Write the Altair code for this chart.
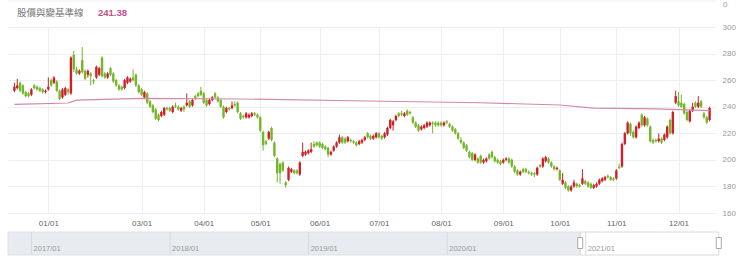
import altair as alt
import pandas as pd

# ---------------- data ----------------
open_ = [
    252,254,258,256,251,250,249,256,255,254,253,251,
    253,260,258,259,252,247,249,253,250,279,268,265,275,267,264,265,260,262,264,277,
    265,262,269,265,260,256,255,254,258,259,262,264,256,
    253,247,250,244,241,238,234,233,234,239,239,236,241,240,237,240,241,244,241,248,250,252,
    250,245,242,245,250,247,245,240,236,239,239,242,243,235,233,232,232,233,235,234,
    232,221,214,216,224,213,201,197,198,183,185,191,192,192,189,203,204,205,206,212,213,
    213,212,210,209,204,207,210,213,217,216,214,215,214,213,212,213,215,220,218,216,217,
    220,218,217,219,224,226,230,235,235,233,237,236,232,228,226,223,224,225,226,228,228,228,
    228,226,229,227,225,223,220,215,213,211,206,205,200,201,203,198,199,204,206,202,200,199,
    198,200,201,200,195,192,189,193,193,191,190,190,189,196,195,199,201,198,195,193,
    192,182,183,180,177,180,182,181,182,184,183,182,179,180,182,184,185,188,187,186,
    186,195,195,212,220,227,221,217,224,234,226,231,225,215,215,214,216,215,217,230,220,243,
    244,243,242,236,229,237,243,240,244,235,232,230,
]
close = [
    255,256,252,250,248,248,253,254,253,252,251,252,
    255,256,262,252,246,253,254,251,277,268,265,267,266,261,267,263,259,270,269,263,
    262,265,264,259,256,253,253,260,262,261,260,256,251,
    249,251,243,240,236,231,230,236,239,238,237,240,240,238,239,238,243,240,245,246,248,249,
    243,241,245,247,247,244,240,232,239,238,241,241,236,231,232,235,234,235,234,232,
    222,211,212,221,215,203,190,190,192,181,194,193,190,190,198,206,206,207,208,210,211,
    210,209,208,204,206,210,213,217,213,213,217,214,213,211,214,215,217,217,216,218,220,
    217,216,220,224,230,229,233,233,234,235,234,235,228,225,222,225,226,228,228,227,226,226,
    226,228,228,225,222,220,216,213,209,207,202,200,204,198,198,200,201,201,202,199,198,197,
    200,201,198,195,191,189,191,191,191,190,189,189,194,195,201,202,198,195,193,194,
    185,185,179,177,180,183,180,180,186,182,180,179,181,182,185,186,187,187,185,185,
    192,194,212,220,228,220,217,225,228,226,232,226,214,213,214,216,213,219,225,220,236,248,
    241,240,235,230,237,240,240,243,240,232,228,239,
]
high = [
    258,261,259,257,252,251,254,257,256,255,254,253,
    262,261,263,260,253,254,255,254,278,282,270,268,285,268,268,266,261,271,270,278,
    266,266,270,266,261,257,256,261,263,262,268,265,257,
    254,252,251,245,242,239,235,237,240,240,240,241,243,241,240,241,250,245,246,249,251,255,
    251,246,246,248,251,248,246,241,240,240,244,244,244,236,234,236,235,236,236,235,
    233,222,215,222,225,214,202,198,199,184,195,194,193,193,199,213,207,208,213,214,214,
    214,213,211,210,207,211,214,219,218,217,218,216,215,214,215,216,218,221,219,219,221,
    221,219,221,225,231,230,234,236,237,236,238,237,233,229,227,226,227,229,229,229,229,229,
    229,229,230,228,226,224,221,217,214,212,207,206,205,202,204,201,202,205,207,203,201,200,
    201,202,202,201,196,193,192,194,194,192,191,191,195,197,202,203,202,199,196,195,
    193,190,184,181,181,185,183,182,193,185,184,183,182,183,186,187,188,189,188,187,
    193,197,213,221,229,228,222,226,229,235,233,232,226,216,216,220,217,220,226,231,237,252,
    251,249,243,237,238,243,244,248,245,236,233,240,
]
low = [
    251,253,251,249,247,247,248,253,252,251,250,250,
    252,255,257,251,245,246,248,249,249,266,264,264,265,260,262,256,257,261,263,262,
    261,261,263,258,255,252,252,253,257,258,259,255,250,
    248,246,242,239,235,230,229,232,233,237,236,235,239,237,236,236,240,239,240,245,247,248,
    242,240,241,244,246,243,239,231,235,237,238,240,235,230,231,231,231,232,233,231,
    221,207,211,215,214,202,183,182,191,179,184,190,189,189,188,202,203,204,205,209,210,
    209,208,207,202,203,206,209,212,212,212,213,213,212,210,211,212,214,216,215,215,216,
    216,215,216,218,223,222,229,232,233,232,233,234,227,224,221,222,223,224,225,220,225,225,
    225,225,227,224,221,219,215,212,208,206,201,199,199,197,197,197,198,200,201,198,197,196,
    197,199,197,194,190,188,188,190,190,189,188,187,188,194,194,198,197,194,192,192,
    184,181,178,176,176,179,179,179,181,181,179,178,178,179,181,183,184,186,184,184,
    185,193,194,211,219,218,216,216,223,225,225,225,213,212,213,213,212,214,216,219,219,242,
    240,239,234,229,228,236,239,239,239,231,227,229,
]

# baseline (slow moving line) read at a few candle positions
ma_idx = [0, 19, 22, 45, 80, 125, 165, 193, 205, 227, 246]
ma_val = [241.8, 242.8, 245.0, 246.3, 245.8, 244.3, 243.0, 241.3, 239.0, 238.3, 237.0]

tick_idx = [12, 45, 67, 87, 108, 129, 151, 173, 193, 213, 235]
tick_labels = ["01/01", "03/01", "04/01", "05/01", "06/01", "07/01",
               "08/01", "09/01", "10/01", "11/01", "12/01"]
y_ticks = [160, 180, 200, 220, 240, 260, 280, 300]

legend_name = "股價與變基準線"
legend_value = "241.38"

slider_domain = [2016.83, 2021.94]
slider_years = [2017, 2018, 2019, 2020, 2021]
slider_labels = ["2017/01", "2018/01", "2019/01", "2020/01", "2021/01"]
slider_window = [2020.96, 2021.96]

RED = "#cf1f27"
GREEN = "#74b62a"
MA_COLOR = "#d08aa8"

# ---------------- build ----------------
n = len(close)
assert len(open_) == n and len(high) == n and len(low) == n, (len(open_), len(high), len(low), n)

df = pd.DataFrame({"i": list(range(n)), "o": open_, "h": high, "l": low, "c": close})
df["h"] = df[["h", "o", "c"]].max(axis=1)
df["l"] = df[["l", "o", "c"]].min(axis=1)
df["dir"] = ["up" if c >= o else "down" for o, c in zip(df["o"], df["c"])]

ma_df = pd.DataFrame({"i": ma_idx, "v": ma_val})

label_expr = "[" + ",".join("'%s'" % s for s in tick_labels) + "][indexof([" + \
    ",".join(str(v) for v in tick_idx) + "], datum.value)]"

xscale = alt.Scale(domain=[-0.5, n - 0.5], nice=False, zero=False)
yscale = alt.Scale(domain=[160, 300], nice=False, zero=False)

x_axis = alt.Axis(values=tick_idx, labelExpr=label_expr, grid=True, gridColor="#eeeeee",
                  domain=False, ticks=False, labelColor="#666666", labelFontSize=8,
                  labelFont="Liberation Sans", labelPadding=6, title=None, labelFlush=False)
y_axis = alt.Axis(orient="right", values=y_ticks, grid=True, gridColor="#eeeeee",
                  domain=False, ticks=False, labelColor="#999999", labelFontSize=8,
                  labelFont="Liberation Sans", labelPadding=6, title=None)

color_enc = alt.Color("dir:N", scale=alt.Scale(domain=["up", "down"], range=[RED, GREEN]), legend=None)

X = alt.X("i:Q", scale=xscale, axis=x_axis)

wick = alt.Chart(df).mark_rule(strokeWidth=1).encode(
    x=X, y=alt.Y("l:Q", scale=yscale, axis=y_axis), y2="h:Q", color=color_enc)
body = alt.Chart(df).mark_bar(size=2.4).encode(
    x=X, y=alt.Y("o:Q", scale=yscale, axis=y_axis), y2="c:Q", color=color_enc)
ma = alt.Chart(ma_df).mark_line(color=MA_COLOR, strokeWidth=1.2).encode(
    x=X, y=alt.Y("v:Q", scale=yscale, axis=y_axis))

main = alt.layer(wick, body, ma)

# ---------------- slider (data zoom strip) ----------------
sx = alt.Scale(domain=slider_domain, nice=False, zero=False)
band_df = pd.DataFrame({"a": [slider_domain[0]], "b": [slider_window[0]]})
win_df = pd.DataFrame({"a": [slider_window[0]], "b": [slider_window[1]]})
yr_df = pd.DataFrame({"y": slider_years, "t": slider_labels})
handle_df = pd.DataFrame({"a": slider_window})

band = alt.Chart(band_df).mark_rect(fill="#e8ecf0", stroke="#dde1e6", strokeWidth=1).encode(
    x=alt.X("a:Q", scale=sx, axis=None), x2="b:Q", y=alt.value(205), y2=alt.value(228))
win = alt.Chart(win_df).mark_rect(fill="#ffffff", stroke="#d6d9dd", strokeWidth=1).encode(
    x=alt.X("a:Q", scale=sx, axis=None), x2="b:Q", y=alt.value(205), y2=alt.value(228))
yr_lines = alt.Chart(yr_df).mark_rule(color="#d5dae0", strokeWidth=1).encode(
    x=alt.X("y:Q", scale=sx, axis=None), y=alt.value(205), y2=alt.value(228))
yr_text = alt.Chart(yr_df).mark_text(align="left", baseline="middle", dx=2, fontSize=7.5,
                                     font="Liberation Sans", color="#999999").encode(
    x=alt.X("y:Q", scale=sx, axis=None), y=alt.value(222), text="t:N")
handles = alt.Chart(handle_df).mark_tick(thickness=5, size=11, fill="#ffffff", stroke="#aaaaaa",
                                         strokeWidth=1, filled=True, opacity=1).encode(
    x=alt.X("a:Q", scale=sx, axis=None), y=alt.value(216))

slider = alt.layer(band, win, yr_lines, yr_text, handles)

# ---------------- header texts ----------------
one = pd.DataFrame({"k": [0]})
t_name = alt.Chart(one).mark_text(align="left", baseline="middle", fontSize=9.5,
                                  font="Noto Sans CJK TC", color="#777777").encode(
    x=alt.value(9), y=alt.value(-14), text=alt.value(legend_name))
t_val = alt.Chart(one).mark_text(align="left", baseline="middle", fontSize=9.5,
                                 font="Liberation Sans", fontWeight="bold", color="#c4508a").encode(
    x=alt.value(90), y=alt.value(-14), text=alt.value(legend_value))
t_zero = alt.Chart(one).mark_text(align="left", baseline="middle", fontSize=8,
                                  font="Liberation Sans", color="#999999").encode(
    x=alt.value(715), y=alt.value(-22), text=alt.value("0"))
top_line = alt.Chart(one).mark_rule(color="#eeeeee", strokeWidth=1).encode(
    x=alt.value(0), x2=alt.value(708), y=alt.value(-26))

texts = alt.layer(top_line, t_name, t_val, t_zero)

chart = alt.layer(main, slider, texts).resolve_scale(x="independent").properties(
    width=708, height=186,
    autosize=alt.AutoSizeParams(type="none"),
    padding={"left": 8, "top": 27, "right": 24, "bottom": 51},
    background="white",
).configure_view(stroke=None)

chart.save("out.html", embed_options={"renderer": "svg", "actions": False})
